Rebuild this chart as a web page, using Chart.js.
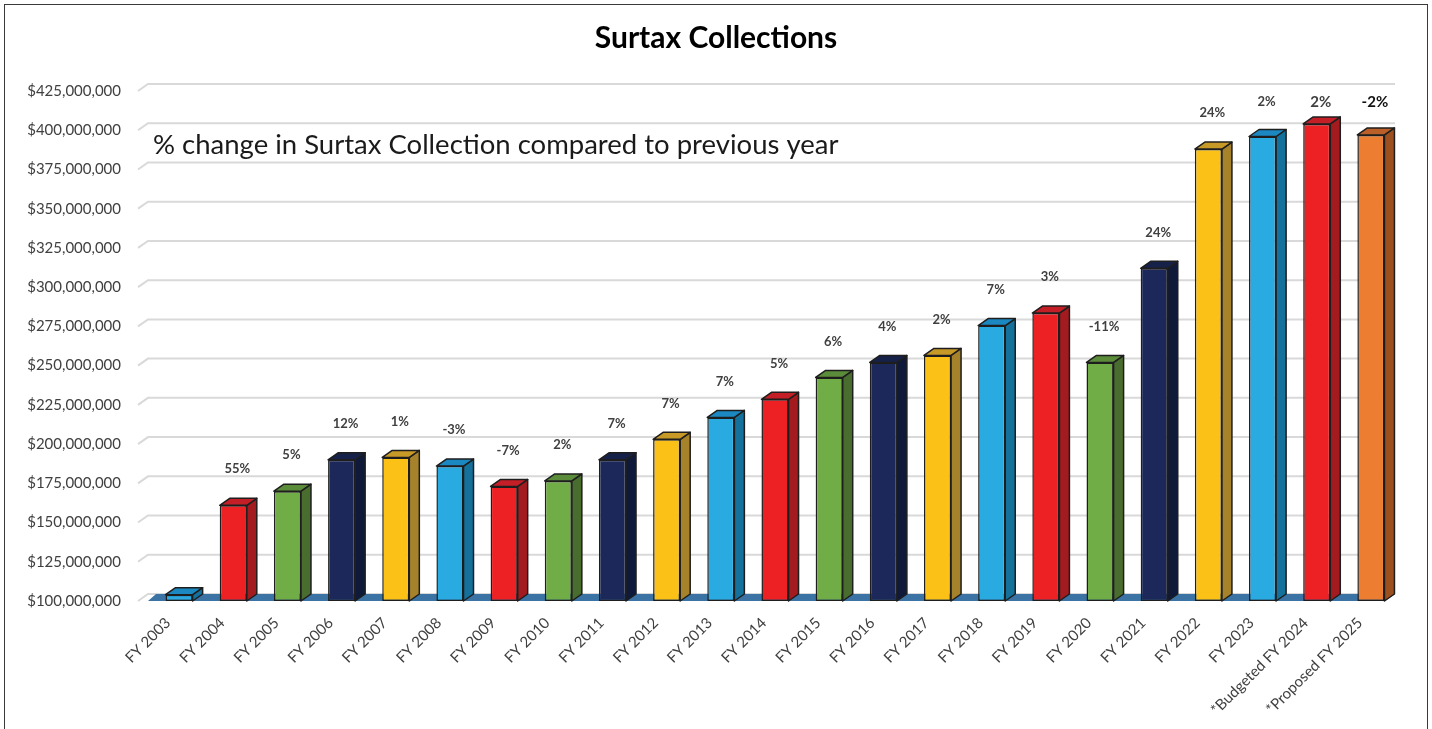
<!DOCTYPE html>
<html lang="en">
<head>
<meta charset="UTF-8">
<title>Surtax Collections</title>
<style>
  html, body { margin: 0; padding: 0; background: #fff; overflow: hidden; }
  #wrap { position: relative; width: 1432px; height: 729px; }
  #frame {
    position: absolute; left: 4px; top: 4px; width: 1422px; height: 780px;
    border: 1px solid #3a3a3a; pointer-events: none;
  }
</style>
<script src="https://cdn.jsdelivr.net/npm/chart.js"></script>
</head>
<body>
<div id="wrap">
  <canvas id="surtaxChart"></canvas>
  <div id="frame"></div>
</div>
<script>
// categories
const years = [
  'FY 2003', 'FY 2004', 'FY 2005', 'FY 2006', 'FY 2007', 'FY 2008', 'FY 2009', 'FY 2010',
  'FY 2011', 'FY 2012', 'FY 2013', 'FY 2014', 'FY 2015', 'FY 2016', 'FY 2017', 'FY 2018',
  'FY 2019', 'FY 2020', 'FY 2021', 'FY 2022', 'FY 2023', '*Budgeted FY 2024', '*Proposed FY 2025'
];
const collections = [
  104e6, 161e6, 170e6, 190e6, 191.5e6, 186e6, 173e6, 176.5e6,
  190e6, 203e6, 217e6, 228.5e6, 242.5e6, 252e6, 256.5e6, 275.5e6,
  283.5e6, 252e6, 312e6, 388e6, 396e6, 404e6, 397e6
];
// % change vs previous year
const pctChange = [
  '', '55%', '5%', '12%', '1%', '-3%', '-7%', '2%',
  '7%', '7%', '7%', '5%', '6%', '4%', '2%', '7%',
  '3%', '-11%', '24%', '24%', '2%', '2%', '-2%'
];
const yMin = 100e6;
const yMax = 425e6;
const yStep = 25e6;

const titleText = 'Surtax Collections';
const noteText = '% change in Surtax Collection compared to previous year';

// front / side / top shades, cycling blue, red, green, navy, yellow; last bar orange
const palette = [
  { front: '#29abe2', side: '#14719c', top: '#1b88c2' },
  { front: '#ed2024', side: '#a31a1f', top: '#c41f27' },
  { front: '#70ad47', side: '#486d2f', top: '#5b8c3a' },
  { front: '#1c2859', side: '#0f1a3b', top: '#16214a' },
  { front: '#fcc117', side: '#a6822b', top: '#c79a28' }
];
const orange = { front: '#ed7d31', side: '#9c501f', top: '#b95f27' };
const shade = i => (i === years.length - 1 ? orange : palette[i % 5]);

const FONT = 'Lato, "Open Sans", sans-serif';
const DX = 10, DY = 7;   // 3D depth

const bar3d = {
  id: 'bar3d',
  beforeDatasetsDraw(chart) {
    const { ctx, chartArea: a, scales: { y } } = chart;
    ctx.save();
    // title, centred on the whole canvas
    ctx.font = `bold 30px ${FONT}`;
    ctx.fillStyle = '#000';
    ctx.textAlign = 'center';
    ctx.textBaseline = 'middle';
    ctx.fillText(titleText, chart.width / 2, 38);

    // back-wall gridlines with little side-wall stub
    ctx.strokeStyle = '#d9d9d9';
    ctx.lineWidth = 2;
    y.ticks.forEach(t => {
      const py = y.getPixelForValue(t.value);
      ctx.beginPath();
      ctx.moveTo(a.left - 14, py);
      ctx.lineTo(a.left - 4, py - DY);
      ctx.lineTo(a.right - 3, py - DY);
      ctx.stroke();
    });
    // floor
    const y0 = y.getPixelForValue(yMin);
    ctx.fillStyle = '#3b74a4';
    ctx.beginPath();
    ctx.moveTo(a.left - 4, y0);
    ctx.lineTo(a.right - 3 - DX, y0);
    ctx.lineTo(a.right - 3, y0 - DY);
    ctx.lineTo(a.left + 4, y0 - DY);
    ctx.closePath();
    ctx.fill();
    ctx.restore();
  },
  afterDatasetsDraw(chart) {
    const { ctx, chartArea: a, scales: { y } } = chart;
    const meta = chart.getDatasetMeta(0);
    const y0 = y.getPixelForValue(yMin);
    ctx.save();
    ctx.lineWidth = 1.5;
    ctx.lineJoin = 'round';
    ctx.strokeStyle = '#1e1e1e';
    meta.data.forEach((bar, i) => {
      const c = shade(i);
      const x0 = bar.x - bar.width / 2, x1 = bar.x + bar.width / 2;
      const yt = bar.y, yb = y0;
      // side face
      ctx.fillStyle = c.side;
      ctx.beginPath();
      ctx.moveTo(x1, yt);
      ctx.lineTo(x1 + DX, yt - DY);
      ctx.lineTo(x1 + DX, yb - DY);
      ctx.lineTo(x1, yb);
      ctx.closePath();
      ctx.fill();
      ctx.stroke();
      // top face
      ctx.fillStyle = c.top;
      ctx.beginPath();
      ctx.moveTo(x0, yt);
      ctx.lineTo(x0 + DX, yt - DY);
      ctx.lineTo(x1 + DX, yt - DY);
      ctx.lineTo(x1, yt);
      ctx.closePath();
      ctx.fill();
      ctx.stroke();
    });

    // % change labels
    ctx.textAlign = 'center';
    ctx.textBaseline = 'middle';
    meta.data.forEach((bar, i) => {
      if (!pctChange[i]) return;
      const big = i >= years.length - 2;
      ctx.font = `bold ${big ? 15 : 13}px ${FONT}`;
      ctx.fillStyle = i === years.length - 1 ? '#111' : '#404040';
      const ly = Math.max(bar.y - 36, a.top + 11);
      ctx.fillText(pctChange[i], bar.x + 4, ly);
    });

    // annotation
    ctx.font = `27.5px ${FONT}`;
    ctx.fillStyle = '#1a1a1a';
    ctx.textAlign = 'left';
    ctx.fillText(noteText, a.left + 1, a.top + 54);
    ctx.restore();
  }
};

new Chart(document.getElementById('surtaxChart').getContext('2d'), {
  type: 'bar',
  data: {
    labels: years,
    datasets: [{
      label: 'Surtax Collections',
      data: collections,
      base: yMin,
      backgroundColor: collections.map((_, i) => shade(i).front),
      borderColor: '#1e1e1e',
      borderWidth: 1.5,
      borderSkipped: false,
      categoryPercentage: 1,
      barPercentage: 0.5
    }]
  },
  options: {
    responsive: true,
    maintainAspectRatio: false,
    animation: false,
    layout: { padding: { left: 0, right: 34, top: 91, bottom: 0 } },
    scales: {
      x: {
        grid: { display: false },
        border: { display: false },
        ticks: {
          color: '#404040',
          font: { family: FONT, size: 15 },
          minRotation: 45,
          maxRotation: 45,
          padding: 5,
          labelOffset: -11,
          autoSkip: false
        },
        afterFit: s => { s.height = 128; }
      },
      y: {
        min: yMin,
        max: yMax,
        grid: { display: false },
        border: { display: false },
        ticks: {
          stepSize: yStep,
          color: '#404040',
          font: { family: FONT, size: 15 },
          padding: 23,
          callback: v => '$' + Number(v).toLocaleString('en-US')
        },
        afterFit: s => { s.width = 152; }
      }
    },
    plugins: {
      legend: { display: false },
      tooltip: { enabled: false },
      title: { display: false }
    }
  },
  plugins: [bar3d]
});
</script>
</body>
</html>
